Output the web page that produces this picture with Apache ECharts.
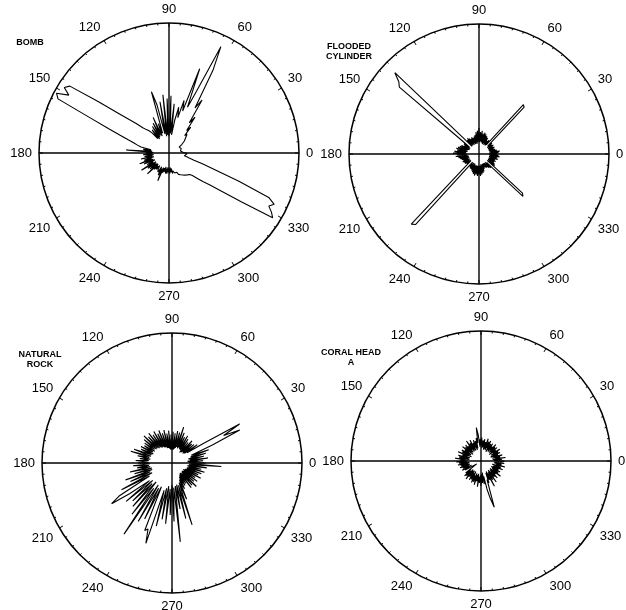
<!DOCTYPE html>
<html>
<head>
<meta charset="utf-8">
<script src="https://cdn.jsdelivr.net/npm/echarts@6/dist/echarts.min.js"></script>
<style>
html,body{margin:0;padding:0;background:#fff;}
#chart{width:626px;height:610px;}
</style>
</head>
<body>
<div id="chart"></div>
<script>
// Bearing sample angles (degrees), one sample every 2 degrees
const ANGLES = Array.from({length: 180}, (_, i) => i * 2);
const ANGLE_TICKS = [0, 30, 60, 90, 120, 150, 180, 210, 240, 270, 300, 330];
const CROSS_H = [0, 180];
const CROSS_V = [90, 270];
const R_MAX = 100;

const TITLES = ['BOMB', 'FLOODED\nCYLINDER', 'NATURAL\nROCK', 'CORAL HEAD\nA'];

// Relative echo level per bearing (circle = 100)
const BOMB = [
 13,11,12,10,11,9,10,9,10,9,10,9,10,9,10,9,11,12,13,15,
 14,17,16,20,18,26,22,34,28,48,40,72,91,52,38,69,34,42,28,36,
 26,14,38,15,44,13,42,14,45,13,40,15,38,49,16,24,14,30,15,26,
 14,24,13,22,14,20,23,25,28,34,40,50,67,92,95,89,98,95,66,50,
 40,33,28,25,22,14,20,13,33,12,18,13,20,12,19,13,22,12,20,14,
 24,13,21,12,19,14,25,12,20,13,19,12,23,12,17,13,16,12,15,13,
 17,12,19,13,23,12,16,12,15,11,16,12,16,11,15,12,16,11,15,12,
 16,14,15,16,15,17,16,18,17,19,18,20,19,21,20,22,21,23,25,29,
 34,40,50,67,94,91,87,90,84,58,38,27,20,16,14,12,13,11,12,14
];

const FLOODED = [
 14,8,15,9,16,8,14,9,13,8,12,8,13,9,12,8,13,9,12,8,
 13,9,14,50,51,14,9,13,8,12,9,14,8,15,9,16,8,17,9,16,
 9,18,10,17,9,20,10,18,9,17,8,15,9,14,8,13,9,14,8,13,
 9,14,8,15,9,14,8,16,90,83,80,15,9,14,8,13,9,15,8,16,
 9,17,10,18,9,17,10,19,10,20,9,17,10,18,9,16,8,15,9,14,
 8,13,9,14,8,13,9,13,8,12,8,12,13,75,73,14,8,12,9,13,
 8,13,9,14,8,15,9,16,9,17,9,16,9,17,9,16,9,17,9,16,
 8,15,9,14,8,12,8,11,8,12,8,12,9,13,8,14,9,16,47,45,
 14,8,15,9,14,8,13,9,14,8,13,9,15,8,14,9,16,8,15,9
];

const ROCK = [
 26,13,24,12,28,14,25,13,27,15,30,16,34,58,45,60,28,14,24,12,
 22,11,21,12,23,11,20,10,22,12,24,12,22,13,25,12,29,13,24,12,
 25,11,23,10,24,11,22,10,25,11,23,12,26,12,24,13,27,13,25,14,
 28,14,26,15,29,15,27,16,30,16,28,17,26,16,25,17,27,16,26,17,
 31,17,33,18,27,17,25,18,28,18,26,17,30,18,27,17,33,16,30,16,
 38,18,35,17,44,20,48,56,40,22,46,20,42,22,45,19,50,24,66,20,
 52,22,48,20,56,54,65,22,50,20,44,18,47,20,40,17,45,19,61,18,
 36,17,44,18,50,16,30,14,22,12,20,11,19,10,24,10,23,11,26,10,
 22,10,24,11,21,10,25,11,22,12,24,12,26,13,23,12,27,13,38,14
];

const CORAL = [
 18,10,16,9,19,11,15,9,17,10,14,8,16,10,15,9,17,11,14,8,
 16,10,15,9,17,11,14,9,16,10,15,8,17,11,16,9,18,10,15,9,
 17,11,16,10,18,12,17,11,20,26,14,18,10,16,9,17,11,15,9,18,
 10,16,9,19,11,15,9,17,10,16,8,18,11,15,9,17,10,16,8,19,
 11,15,9,18,10,17,9,20,12,16,10,19,11,17,9,18,10,16,9,17,
 10,15,8,16,10,14,6,4,7,15,10,17,11,16,9,18,10,15,9,17,
 11,16,9,18,12,17,10,19,11,16,10,20,12,17,11,19,10,17,9,18,
 12,22,30,37,15,18,10,16,9,22,11,17,10,20,9,16,11,18,10,15,
 9,19,11,16,10,17,9,15,10,18,11,16,9,19,12,16,10,18,11,17
];

const PLOTS = [BOMB, FLOODED, ROCK, CORAL];
const CENTERS = [[169,153],[479,154],[172,463],[481,461]];
const TITLE_POS = [[30,38],[349,42],[40,350],[351,348]];

const chart = echarts.init(document.getElementById('chart'), null, {renderer: 'canvas'});

const polar = [], angleAxis = [], radiusAxis = [], series = [], graphic = [];
PLOTS.forEach((vals, p) => {
  polar.push({center: CENTERS[p], radius: 130});
  angleAxis.push({
    polarIndex: p, type: 'value', min: 0, max: 360, interval: 30,
    startAngle: 0, clockwise: false,
    axisLine: {lineStyle: {color: '#000', width: 1.5}},
    axisTick: {show: true, inside: true, length: 4, lineStyle: {color: '#000', width: 1}},
    minorTick: {show: true, splitNumber: 6, length: 2, lineStyle: {color: '#000', width: 1}},
    splitLine: {show: false},
    axisLabel: {margin: 7, color: '#000', fontSize: 13, fontFamily: 'Liberation Sans',
      formatter: v => (ANGLE_TICKS.indexOf(v) >= 0 ? String(v) : '')}
  });
  radiusAxis.push({polarIndex: p, type: 'value', min: 0, max: R_MAX, show: false,
    axisLine: {show: false}, axisTick: {show: false}, axisLabel: {show: false}, splitLine: {show: false}});
  const data = ANGLES.map((a, k) => [vals[k], a]);
  data.push([vals[0], 360]);
  series.push({
    type: 'line', coordinateSystem: 'polar', polarIndex: p, data: data,
    showSymbol: false, symbol: 'none', smooth: false, silent: true,
    lineStyle: {color: '#000', width: 1.1}, z: 3
  });
  series.push({
    type: 'line', coordinateSystem: 'polar', polarIndex: p,
    data: CROSS_H.map(a => [R_MAX, a]), showSymbol: false, symbol: 'none', silent: true,
    lineStyle: {color: '#000', width: 1.4}, z: 2
  });
  series.push({
    type: 'line', coordinateSystem: 'polar', polarIndex: p,
    data: CROSS_V.map(a => [R_MAX, a]), showSymbol: false, symbol: 'none', silent: true,
    lineStyle: {color: '#000', width: 1.4}, z: 2
  });
  graphic.push({
    type: 'text', x: TITLE_POS[p][0], y: TITLE_POS[p][1], silent: true,
    style: {text: TITLES[p], fill: '#000', font: 'bold 9px "Liberation Sans"',
      align: 'center', textAlign: 'center', verticalAlign: 'top', textVerticalAlign: 'top', lineHeight: 10}
  });
});

chart.setOption({
  animation: false,
  backgroundColor: '#fff',
  graphic: graphic,
  polar: polar,
  angleAxis: angleAxis,
  radiusAxis: radiusAxis,
  series: series
});
</script>
</body>
</html>
